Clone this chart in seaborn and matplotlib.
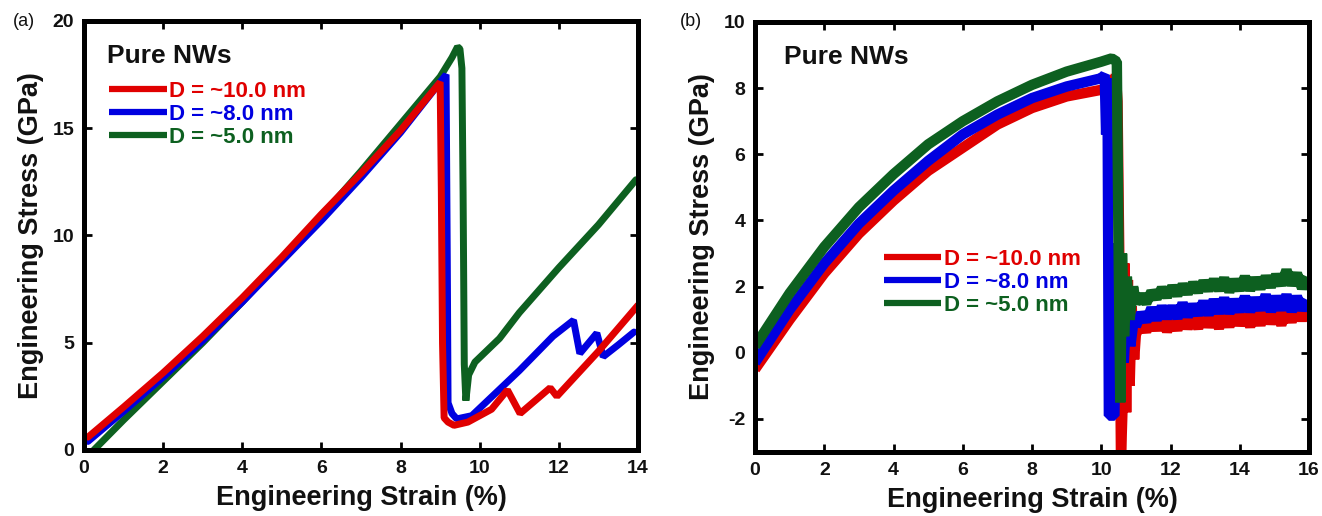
import matplotlib
matplotlib.use("Agg")
import matplotlib.pyplot as plt
import seaborn as sns
from matplotlib.lines import Line2D

sns.set_theme(style="white")
plt.rcParams['font.family'] = ['Liberation Sans', 'DejaVu Sans']
plt.rcParams['axes.unicode_minus'] = False

# ---------------- data: panel (a) ----------------
red_a_x = [0.1, 1.0, 2.0, 3.0, 4.0, 5.0, 6.0, 7.0, 8.0, 9.0, 9.03, 9.06, 9.1, 9.2, 9.35, 9.7,
           10.0, 10.3, 10.7, 11.02, 11.4, 11.78, 11.95, 13.0, 14.0]
red_a_y = [0.6, 2.0, 3.6, 5.3, 7.1, 9.0, 11.0, 12.9, 14.9, 17.15, 12.1, 5.0, 1.5, 1.3, 1.15, 1.3,
           1.6, 1.9, 2.8, 1.7, 2.3, 2.9, 2.5, 4.6, 6.75]

blue_a_x = [0.1, 1.0, 2.0, 3.0, 4.0, 5.0, 6.0, 7.0, 8.0, 9.15, 9.18, 9.2, 9.3, 9.42, 9.8, 10.2,
            11.0, 11.85, 12.37, 12.53, 12.96, 13.12, 13.5, 13.9]
blue_a_y = [0.4, 1.8, 3.4, 5.1, 6.9, 8.8, 10.7, 12.7, 14.8, 17.5, 9.0, 2.2, 1.7, 1.45, 1.6, 2.3,
            3.7, 5.3, 6.05, 4.5, 5.45, 4.35, 4.9, 5.5]

green_a_x = [0.25, 1.0, 2.0, 3.0, 4.0, 5.0, 6.0, 7.0, 8.0, 9.0, 9.3, 9.44, 9.5, 9.55, 9.58, 9.61,
             9.65, 9.72, 9.88, 10.5, 11.0, 12.0, 13.0, 13.95]
green_a_y = [0.0, 1.4, 3.2, 5.0, 6.9, 8.9, 10.9, 13.0, 15.2, 17.4, 18.3, 18.8, 18.7, 17.8, 12.0, 4.0,
             2.3, 3.5, 4.1, 5.2, 6.4, 8.5, 10.5, 12.6]

# ---------------- data: panel (b) ----------------
pre_b_x = [0.0, 1.0, 2.0, 3.0, 4.0, 5.0, 6.0, 7.0, 8.0, 9.0, 10.0]
red_pre_b_y = [-0.5, 1.0, 2.4, 3.6, 4.6, 5.5, 6.2, 6.9, 7.4, 7.75, 7.95]
blue_pre_b_y = [-0.3, 1.3, 2.7, 3.9, 4.9, 5.8, 6.6, 7.2, 7.7, 8.05, 8.3]
green_pre_b_y = [0.2, 1.8, 3.2, 4.4, 5.4, 6.3, 7.0, 7.6, 8.1, 8.5, 8.8]

red_frac_x = [10.2, 10.35, 10.42, 10.47, 10.52, 10.57, 10.62, 10.67, 10.72, 10.77, 10.82, 10.88, 10.95]
red_frac_y = [8.0, 8.1, 8.4, 7.6, 3.0, -3.2, -1.5, 2.7, -1.8, 2.2, -1.0, 1.4, -0.2]
blue_frac_x = [10.1, 10.14, 10.18, 10.22, 10.38, 10.44, 10.5, 10.58, 10.65, 10.74, 10.84, 10.95]
blue_frac_y = [8.4, 6.6, 8.3, -1.9, -1.9, 3.3, -1.0, 2.0, -0.3, 1.5, 0.2, 1.1]
green_frac_x = [10.3, 10.45, 10.5, 10.55, 10.6, 10.66, 10.74, 10.82, 10.92]
green_frac_y = [8.9, 8.8, 3.2, -1.5, 3.0, 0.5, 2.3, 1.0, 2.0]

post_b_x = [11.0, 11.15, 11.3, 11.45, 11.6, 11.75, 11.9, 12.05, 12.2, 12.35, 12.5, 12.65, 12.8,
            12.95, 13.1, 13.25, 13.4, 13.55, 13.7, 13.85, 14.0, 14.15, 14.3, 14.45, 14.6, 14.75,
            14.9, 15.05, 15.2, 15.35, 15.5, 15.65, 15.8, 15.95]
red_post_b_y = [0.55, 0.9, 0.65, 1.0, 0.7, 1.05, 0.65, 1.0, 0.7, 1.1, 0.75, 1.05, 0.75, 1.15, 0.8,
                1.1, 0.75, 1.15, 0.8, 1.2, 0.85, 1.15, 0.8, 1.2, 0.85, 1.25, 0.9, 1.2, 0.85, 1.25,
                0.95, 1.3, 1.0, 1.3]
blue_post_b_y = [0.8, 1.2, 0.95, 1.35, 1.0, 1.4, 1.05, 1.4, 1.05, 1.5, 1.1, 1.45, 1.15, 1.55, 1.15,
                 1.6, 1.2, 1.65, 1.2, 1.6, 1.25, 1.7, 1.25, 1.65, 1.3, 1.75, 1.25, 1.7, 1.3, 1.75,
                 1.25, 1.7, 1.3, 1.6]
green_post_b_y = [1.5, 1.75, 1.5, 1.85, 1.65, 1.95, 1.7, 2.0, 1.75, 2.05, 1.8, 2.1, 1.85, 2.15, 1.9,
                  2.2, 1.9, 2.25, 1.85, 2.2, 1.9, 2.3, 1.9, 2.25, 1.95, 2.3, 2.0, 2.35, 2.05, 2.5,
                  2.05, 2.4, 1.95, 2.3]

labels = ["D = ~10.0 nm", "D = ~8.0 nm", "D = ~5.0 nm"]
colors = ["#e00000", "#0000e0", "#0d6020"]

# ---------------- figure ----------------
fig = plt.figure(figsize=(13.22, 5.16), dpi=100)
W, H = 1322, 516


def add_ax(l, t, r, b):
    return fig.add_axes([l / W, 1 - b / H, (r - l) / W, (b - t) / H])


ax_a = add_ax(84, 21, 638, 450)
ax_b = add_ax(755, 22, 1309, 452)

lw_a = 5.0
lw_b = 7.5

series_a = [(green_a_x, green_a_y, colors[2]), (blue_a_x, blue_a_y, colors[1]),
            (red_a_x, red_a_y, colors[0])]
for xs, ys, c in series_a:
    sns.lineplot(x=xs, y=ys, ax=ax_a, color=c, lw=lw_a, sort=False, estimator=None,
                 solid_joinstyle='bevel')

series_b = [
    (pre_b_x + red_frac_x + post_b_x, red_pre_b_y + red_frac_y + red_post_b_y, colors[0]),
    (pre_b_x + blue_frac_x + post_b_x, blue_pre_b_y + blue_frac_y + blue_post_b_y, colors[1]),
    (pre_b_x + green_frac_x + post_b_x, green_pre_b_y + green_frac_y + green_post_b_y, colors[2]),
]
for xs, ys, c in series_b:
    sns.lineplot(x=xs, y=ys, ax=ax_b, color=c, lw=lw_b, sort=False, estimator=None,
                 solid_joinstyle='bevel', solid_capstyle='butt')

ax_a.set_xlim(0, 14)
ax_a.set_ylim(0, 20)
ax_a.set_xticks(range(0, 15, 2))
ax_a.set_yticks([0, 5, 10, 15, 20])
ax_b.set_xlim(0, 16)
ax_b.set_ylim(-3, 10)
ax_b.set_xticks(range(0, 17, 2))
ax_b.set_yticks(range(-2, 11, 2))

for ax in (ax_a, ax_b):
    ax.set_facecolor("white")
    for s in ax.spines.values():
        s.set_color("black")
        s.set_linewidth(3.6)
        s.set_visible(True)
    ax.tick_params(direction="in", length=6, width=2, top=True, right=True,
                   bottom=True, left=True, color="black", labelsize=14, pad=7)
    for lab in ax.get_xticklabels() + ax.get_yticklabels():
        lab.set_fontweight("bold")
        lab.set_color("#111111")
    ax.set_xlabel("Engineering Strain (%)", fontsize=19.5, fontweight="bold", color="#111111",
                  labelpad=6)
    ax.set_ylabel("Engineering Stress (GPa)", fontsize=19.5, fontweight="bold", color="#111111",
                  labelpad=6)
    ax.grid(False)

ax_a.text(0.0415, 0.918, "Pure NWs", transform=ax_a.transAxes, fontsize=19, fontweight="bold",
          va="center", ha="left", color="#111111")
ax_b.text(0.053, 0.919, "Pure NWs", transform=ax_b.transAxes, fontsize=19, fontweight="bold",
          va="center", ha="left", color="#111111")

fig.text(13 / W, 1 - 21 / H, "(a)", fontsize=13, va="center", ha="left", color="#111111")
fig.text(680 / W, 1 - 21 / H, "(b)", fontsize=13, va="center", ha="left", color="#111111")

handles = [Line2D([], [], color=c, lw=4.5, solid_capstyle='butt') for c in colors]
for ax, anchor in ((ax_a, (0.045, 0.86)), (ax_b, (0.232, 0.473))):
    leg = ax.legend(handles, labels, loc="upper left", bbox_to_anchor=anchor, frameon=False,
                    borderpad=0, borderaxespad=0, handlelength=2.6, handletextpad=0.1,
                    labelspacing=0.09, prop={"weight": "bold", "size": 16},
                    labelcolor=colors)

fig.savefig("out.png", dpi=100, facecolor="white")
